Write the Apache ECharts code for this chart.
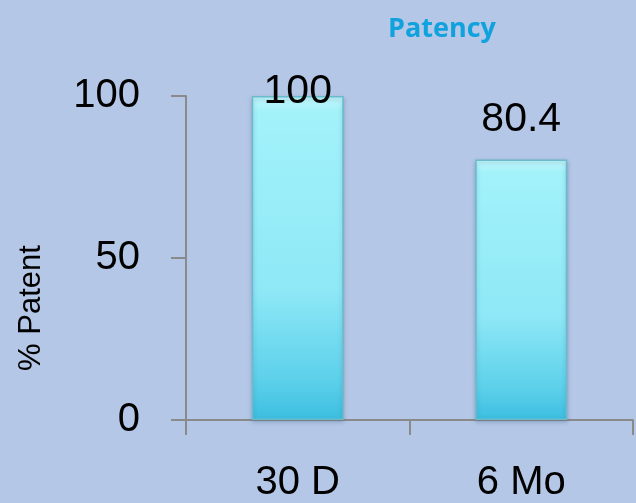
<!DOCTYPE html>
<html><head><meta charset="utf-8">
<script src="https://cdn.jsdelivr.net/npm/echarts@6/dist/echarts.min.js"></script>
<style>html,body{margin:0;padding:0;background:#B4C7E7;}#c{width:636px;height:503px;}</style>
</head><body><div id="c"></div>
<script>
const categories = ['30 D', '6 Mo'];
const patentValues = [100, 80.4];
const labelDistances = [-16, 19];
const chart = echarts.init(document.getElementById('c'));
chart.setOption({
  backgroundColor: '#B4C7E7',
  animation: false,
  title: {text: 'Patency', left: 437, top: 11, textAlign: 'center',
    textStyle: {color: '#10A2DC', fontSize: 27, fontWeight: 'bold', fontFamily: 'Open Sans'}},
  grid: {left: 186, right: 3, top: 96, bottom: 82},
  xAxis: {type: 'category', data: categories,
    axisLine: {lineStyle: {color: '#8A8A8A', width: 2}},
    axisTick: {show: true, length: 15, lineStyle: {color: '#8A8A8A', width: 2}},
    axisLabel: {color: '#000', fontSize: 40, margin: 43, fontFamily: 'Liberation Sans'}},
  yAxis: {type: 'value', min: 0, max: 100, interval: 50,
    name: '% Patent', nameLocation: 'middle', nameGap: 139, nameRotate: 90,
    nameTextStyle: {color: '#000', fontSize: 31, fontFamily: 'Liberation Sans', padding: [0, 100, 0, 0]},
    splitLine: {show: false},
    axisLine: {show: true, lineStyle: {color: '#8A8A8A', width: 2}},
    axisTick: {show: true, length: 15, lineStyle: {color: '#8A8A8A', width: 2}},
    axisLabel: {color: '#000', fontSize: 40, margin: 46, fontFamily: 'Liberation Sans'}},
  series: [{type: 'bar', barWidth: 92,
    data: patentValues.map((v, i) => ({value: v, label: {distance: labelDistances[i]}})),
    itemStyle: {
      color: new echarts.graphic.LinearGradient(0, 0, 0, 1, [
        {offset: 0, color: '#C4F8FC'}, {offset: 0.05, color: '#A2F2FA'},
        {offset: 0.6, color: '#8EE8F6'}, {offset: 0.88, color: '#5CD0EA'}, {offset: 1, color: '#3CBEE0'}]),
      borderColor: '#6ABCCC', borderWidth: 1.5,
      shadowColor: 'rgba(60,90,120,0.35)', shadowBlur: 4, shadowOffsetY: 2},
    label: {show: true, position: 'top', color: '#000', fontSize: 41, fontFamily: 'Liberation Sans'}
  }]
});
</script></body></html>
